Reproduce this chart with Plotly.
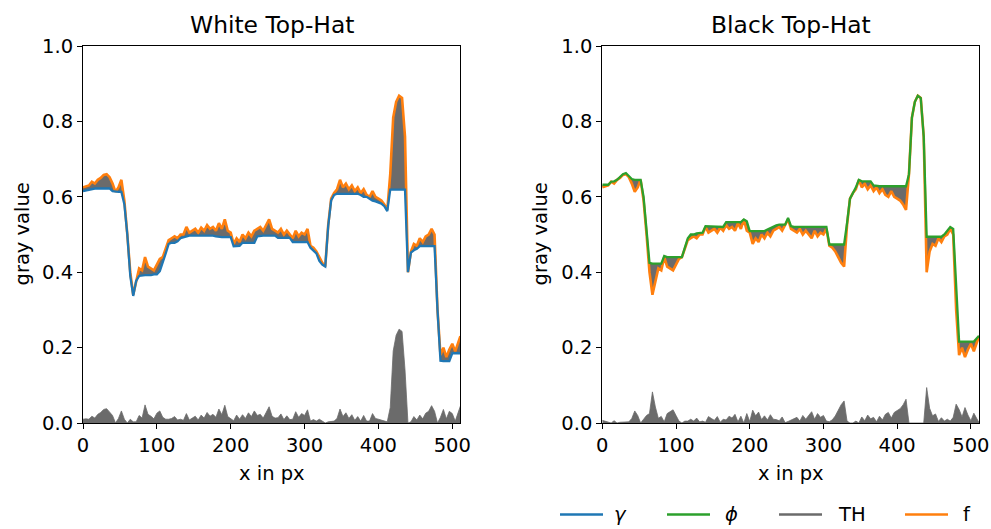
import plotly.graph_objects as go

# ---------------- data ----------------
x_px = list(range(0, 512, 4)) + [511]

f_vals = [
    0.625, 0.628, 0.630, 0.640, 0.635, 0.645, 0.650, 0.658,
    0.660, 0.652, 0.635, 0.613, 0.625, 0.645, 0.590, 0.500,
    0.400, 0.340, 0.380, 0.410, 0.405, 0.440, 0.415, 0.410,
    0.405, 0.420, 0.435, 0.440, 0.460, 0.485, 0.490, 0.495,
    0.490, 0.500, 0.500, 0.520, 0.505, 0.510, 0.515, 0.505,
    0.518, 0.510, 0.525, 0.515, 0.520, 0.510, 0.530, 0.515,
    0.540, 0.510, 0.505, 0.475, 0.490, 0.480, 0.500, 0.490,
    0.505, 0.495, 0.510, 0.515, 0.520, 0.510, 0.525, 0.540,
    0.515, 0.510, 0.505, 0.515, 0.500, 0.510, 0.500, 0.490,
    0.510, 0.495, 0.505, 0.500, 0.515, 0.470, 0.465, 0.455,
    0.440, 0.425, 0.415, 0.525, 0.595, 0.610, 0.620, 0.645,
    0.625, 0.635, 0.620, 0.630, 0.615, 0.625, 0.610, 0.620,
    0.605, 0.600, 0.615, 0.600, 0.595, 0.590, 0.580, 0.565,
    0.660, 0.810, 0.852, 0.868, 0.862, 0.760, 0.400, 0.455,
    0.475, 0.470, 0.490, 0.480, 0.495, 0.500, 0.515, 0.500,
    0.300, 0.180, 0.200, 0.175, 0.195, 0.210, 0.190, 0.215,
    0.230,
]

gamma_vals = [
    0.615, 0.617, 0.620, 0.622, 0.622, 0.622, 0.622, 0.622,
    0.622, 0.622, 0.615, 0.613, 0.613, 0.613, 0.580, 0.500,
    0.390, 0.337, 0.377, 0.390, 0.392, 0.392, 0.392, 0.392,
    0.394, 0.394, 0.403, 0.425, 0.450, 0.475, 0.478, 0.478,
    0.482, 0.490, 0.493, 0.495, 0.497, 0.497, 0.497, 0.497,
    0.497, 0.497, 0.497, 0.497, 0.497, 0.495, 0.493, 0.493,
    0.493, 0.493, 0.493, 0.469, 0.469, 0.470, 0.478, 0.478,
    0.478, 0.478, 0.478, 0.495, 0.497, 0.497, 0.497, 0.497,
    0.497, 0.497, 0.491, 0.491, 0.491, 0.491, 0.491, 0.480,
    0.480, 0.480, 0.480, 0.480, 0.480, 0.465, 0.456, 0.450,
    0.430, 0.420, 0.415, 0.522, 0.590, 0.605, 0.608, 0.608,
    0.608, 0.608, 0.608, 0.608, 0.608, 0.608, 0.605, 0.600,
    0.600, 0.595, 0.590, 0.588, 0.585, 0.582, 0.575, 0.562,
    0.619, 0.619, 0.619, 0.619, 0.619, 0.619, 0.400, 0.452,
    0.458, 0.462, 0.469, 0.469, 0.469, 0.469, 0.469, 0.469,
    0.300, 0.165, 0.164, 0.164, 0.164, 0.185, 0.185, 0.185,
    0.185,
]

phi_vals = [
    0.632, 0.632, 0.632, 0.640, 0.641, 0.645, 0.652, 0.660,
    0.663, 0.655, 0.647, 0.645, 0.645, 0.645, 0.600, 0.520,
    0.425, 0.4225, 0.4225, 0.4225, 0.4225, 0.443, 0.440, 0.440,
    0.440, 0.440, 0.440, 0.440, 0.465, 0.490, 0.500, 0.500,
    0.503, 0.503, 0.505, 0.522, 0.522, 0.522, 0.522, 0.522,
    0.520, 0.520, 0.533, 0.533, 0.533, 0.533, 0.533, 0.533,
    0.540, 0.535, 0.509, 0.509, 0.509, 0.509, 0.509, 0.509,
    0.513, 0.517, 0.520, 0.524, 0.526, 0.526, 0.526, 0.544,
    0.522, 0.520, 0.520, 0.520, 0.520, 0.520, 0.520, 0.520,
    0.520, 0.520, 0.520, 0.520, 0.520, 0.4735, 0.4735, 0.4735,
    0.4735, 0.4735, 0.4735, 0.530, 0.595, 0.610, 0.625, 0.645,
    0.641, 0.641, 0.641, 0.641, 0.630, 0.628, 0.628, 0.628,
    0.628, 0.628, 0.628, 0.628, 0.628, 0.628, 0.628, 0.628,
    0.660, 0.810, 0.852, 0.868, 0.862, 0.760, 0.494, 0.494,
    0.494, 0.494, 0.494, 0.494, 0.500, 0.510, 0.520, 0.515,
    0.350, 0.216, 0.216, 0.216, 0.216, 0.216, 0.216, 0.225,
    0.231,
]

y_ticks = [0.0, 0.2, 0.4, 0.6, 0.8, 1.0]
x_ticks = [0, 100, 200, 300, 400, 500]
titles = ["White Top-Hat", "Black Top-Hat"]
legend_names = ["<i>γ</i>", "<i>ϕ</i>", "TH", "f"]

# top-hat residues
th_white = [a - b for a, b in zip(f_vals, gamma_vals)]
th_black = [a - b for a, b in zip(phi_vals, f_vals)]

# ---------------- styling ----------------
C_BLUE = "#1f77b4"
C_GREEN = "#2ca02c"
C_ORANGE = "#ff7f0e"
C_GRAY = "#6b6b6b"
legend_colors = [C_BLUE, C_GREEN, C_GRAY, C_ORANGE]
FONT = "DejaVu Sans, sans-serif"
FS = 19.5
FS_TITLE = 23.4
LW = 2.3

W, H = 991, 529
ML, MR, MT, MB = 83, 12, 46, 106
PW = W - ML - MR
PH = H - MT - MB
dom1 = [0.0, 377.4 / PW]
dom2 = [(602.3 - ML) / PW, 1.0]


def px_x(p):
    return (p - ML) / PW


def px_y(p):
    return (H - MB - p) / PH


fig = go.Figure()


def add_band(xa, ya, lo, hi):
    fig.add_trace(go.Scatter(x=x_px, y=lo, mode="lines", line=dict(width=0, color=C_GRAY),
                             showlegend=False, hoverinfo="skip", xaxis=xa, yaxis=ya))
    fig.add_trace(go.Scatter(x=x_px, y=hi, mode="lines", line=dict(width=0, color=C_GRAY),
                             fill="tonexty", fillcolor=C_GRAY,
                             showlegend=False, hoverinfo="skip", xaxis=xa, yaxis=ya))


# ---- left panel: white top-hat ----
add_band("x", "y", gamma_vals, f_vals)
fig.add_trace(go.Scatter(x=x_px, y=th_white, mode="lines", line=dict(width=0.8, color=C_GRAY),
                         fill="tozeroy", fillcolor=C_GRAY, showlegend=False,
                         hoverinfo="skip", xaxis="x", yaxis="y"))
fig.add_trace(go.Scatter(x=x_px, y=f_vals, mode="lines", line=dict(width=LW + 0.3, color=C_ORANGE),
                         showlegend=False, xaxis="x", yaxis="y"))
fig.add_trace(go.Scatter(x=x_px, y=gamma_vals, mode="lines", line=dict(width=LW, color=C_BLUE),
                         showlegend=False, xaxis="x", yaxis="y"))

# ---- right panel: black top-hat ----
add_band("x2", "y2", f_vals, phi_vals)
fig.add_trace(go.Scatter(x=x_px, y=th_black, mode="lines", line=dict(width=0.8, color=C_GRAY),
                         fill="tozeroy", fillcolor=C_GRAY, showlegend=False,
                         hoverinfo="skip", xaxis="x2", yaxis="y2"))
fig.add_trace(go.Scatter(x=x_px, y=f_vals, mode="lines", line=dict(width=LW + 0.3, color=C_ORANGE),
                         showlegend=False, xaxis="x2", yaxis="y2"))
fig.add_trace(go.Scatter(x=x_px, y=phi_vals, mode="lines", line=dict(width=LW, color=C_GREEN),
                         showlegend=False, xaxis="x2", yaxis="y2"))

axis_common = dict(
    showline=True, linecolor="black", linewidth=1.1, mirror=True,
    ticks="outside", ticklen=5, tickwidth=1.1, tickcolor="black",
    showgrid=False, zeroline=False,
    tickfont=dict(family=FONT, size=FS, color="black"),
)

fig.update_layout(
    width=W, height=H,
    margin=dict(l=ML, r=MR, t=MT, b=MB, pad=0, autoexpand=False),
    paper_bgcolor="white", plot_bgcolor="white",
    font=dict(family=FONT, size=FS, color="black"),
    xaxis=dict(domain=dom1, range=[0, 511], tickvals=x_ticks, anchor="y", **axis_common),
    yaxis=dict(domain=[0, 1], range=[0, 1], tickvals=y_ticks, tickformat=".1f", anchor="x", **axis_common),
    xaxis2=dict(domain=dom2, range=[0, 511], tickvals=x_ticks, anchor="y2", **axis_common),
    yaxis2=dict(domain=[0, 1], range=[0, 1], tickvals=y_ticks, tickformat=".1f", anchor="x2", **axis_common),
    showlegend=False,
)

annotations = []
shapes = []
for t, dom in zip(titles, [dom1, dom2]):
    cx = (dom[0] + dom[1]) / 2
    annotations.append(dict(text=t, x=cx, y=px_y(25), xref="paper", yref="paper", xanchor="center",
                            yanchor="middle", showarrow=False,
                            font=dict(family=FONT, size=FS_TITLE, color="black")))
    annotations.append(dict(text="x in px", x=cx, y=px_y(473), xref="paper", yref="paper",
                            xanchor="center", yanchor="middle", showarrow=False,
                            font=dict(family=FONT, size=FS, color="black")))
for lx in [22, 540]:
    annotations.append(dict(text="gray value", x=px_x(lx), y=0.5, xref="paper", yref="paper",
                            xanchor="center", yanchor="middle", textangle=-90, showarrow=False,
                            font=dict(family=FONT, size=FS, color="black")))

# ---- legend (drawn below the right panel, as in the reference) ----
leg_line_x = [560, 667, 779, 905]
leg_text_x = [612, 723, 836, 961]
leg_y = 514.5
for name, col, lx, tx in zip(legend_names, legend_colors, leg_line_x, leg_text_x):
    shapes.append(dict(type="line", xref="paper", yref="paper",
                       x0=px_x(lx), x1=px_x(lx + 43), y0=px_y(leg_y), y1=px_y(leg_y),
                       line=dict(color=col, width=LW)))
    annotations.append(dict(text=name, x=px_x(tx), y=px_y(leg_y), xref="paper", yref="paper",
                            xanchor="left", yanchor="middle", showarrow=False,
                            font=dict(family=FONT, size=FS, color="black")))

fig.update_layout(annotations=annotations, shapes=shapes)

fig.write_html("out.html")
